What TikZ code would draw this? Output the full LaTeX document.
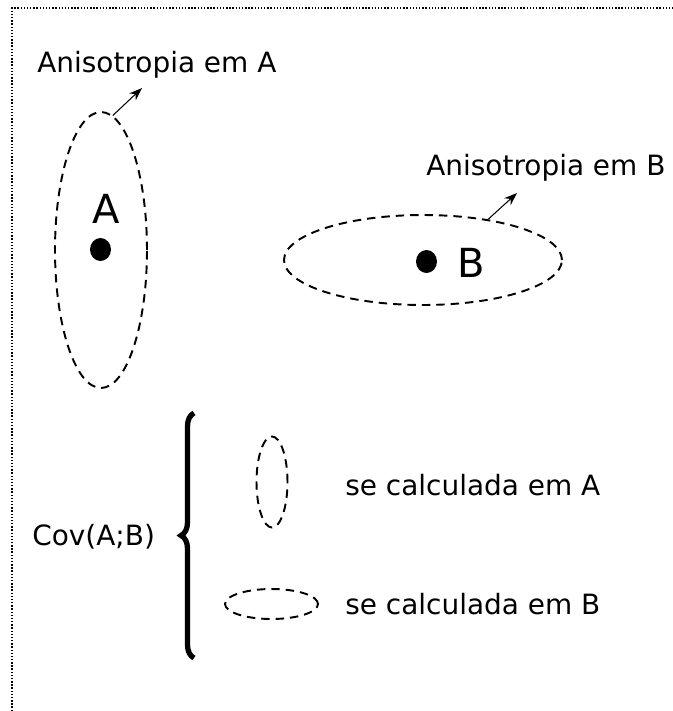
\documentclass[tikz,border=0pt]{standalone}
\usepackage{fontspec}
\setmainfont{DejaVu Sans}
\usetikzlibrary{arrows.meta,positioning,shapes.geometric,decorations.pathreplacing}
\tikzset{
  aniso/.style={ellipse, draw, dash pattern=on 4.8pt off 3.4pt, line width=1.1pt, inner sep=0pt},
  ponto/.style={ellipse, fill=black, inner sep=0pt, minimum width=0.42cm, minimum height=0.46cm},
  rotulo/.style={anchor=base west, inner sep=0pt, font=\fontsize{15.9}{19}\selectfont},
  letra/.style={anchor=base west, inner sep=0pt, font=\fontsize{22.8}{27}\selectfont},
  seta/.style={-{Stealth[length=2.6mm, width=1.9mm]}, line width=0.6pt},
  chave/.style={decorate, decoration={brace, amplitude=0.26cm}, line width=3pt},
}
\begin{document}
\begin{tikzpicture}[x=0.02cm, y=-0.02cm]
\useasboundingbox (0,0) rectangle (673,711);
% moldura pontilhada
\draw[densely dotted, line width=0.8pt] (12,711) -- (12,8) -- (673,8);
% anisotropias
\node[aniso, minimum width=1.84cm, minimum height=5.52cm] (elA) at (101,250) {};
\node[aniso, minimum width=5.56cm, minimum height=1.8cm] (elB) at (423,260) {};
\node[ponto] (pA) at (100.5,249.5) {};
\node[ponto] (pB) at (426.5,261.5) {};
\node[letra] (lA) at (92,223) {A};
\node[letra] (lB) at (457,277) {B};
\node[rotulo] (tA) at (37,72) {Anisotropia em A};
\node[rotulo] (tB) at (426,175) {Anisotropia em B};
\coordinate (fimA) at (142,88);
\coordinate (fimB) at (517,193);
\draw[seta] (elA.85) -- (fimA);
\draw[seta] (elB.32) -- (fimB);
% covariancia
\node[rotulo] (cov) at (32,545) {Cov(A;B)};
\coordinate (chaveBaixo) at (194,658);
\coordinate (chaveTopo) at (194,413);
\draw[chave] (chaveBaixo) -- (chaveTopo);
\node[aniso, minimum width=0.62cm, minimum height=1.82cm] (peqA) at (272,482) {};
\node[aniso, minimum width=1.86cm, minimum height=0.6cm] (peqB) at (271.5,604) {};
\node[rotulo] (sA) at (345,495) {se calculada em A};
\node[rotulo] (sB) at (345,614) {se calculada em B};
\end{tikzpicture}
\end{document}
